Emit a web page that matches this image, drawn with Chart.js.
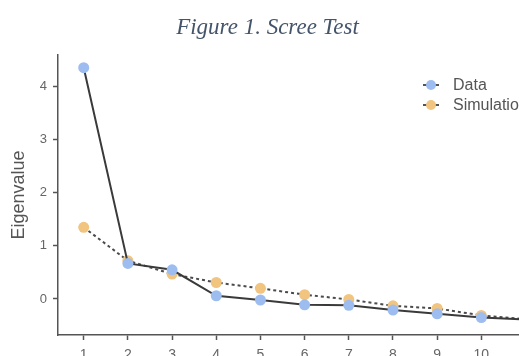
<!DOCTYPE html>
<html>
<head>
<meta charset="utf-8">
<title>Scree Test</title>
<script src="https://cdn.jsdelivr.net/npm/chart.js@4.4.1/dist/chart.umd.min.js"></script>
<style>
html, body { margin: 0; padding: 0; overflow: hidden; background: #ffffff; }
/* canvas is a bit wider/taller than the window: the right and bottom edges get cut off like the original */
#wrap { position: absolute; left: 0; top: 0; width: 535px; height: 375px; }
</style>
</head>
<body>
<div id="wrap"><canvas id="screeChart"></canvas></div>
<script>
// component numbers along the x axis
var components = [1, 2, 3, 4, 5, 6, 7, 8, 9, 10, 11];
// observed eigenvalues
var dataValues = [4.36, 0.67, 0.55, 0.06, -0.02, -0.11, -0.12, -0.21, -0.28, -0.35, -0.39];
// eigenvalues from the simulation
var simValues = [1.35, 0.72, 0.47, 0.31, 0.20, 0.08, -0.01, -0.13, -0.18, -0.31, -0.38];
var yTicks = [0, 1, 2, 3, 4];
var seriesNames = ["Data", "Simulation"];

function toPoints(values) {
    var pts = [];
    for (var i = 0; i < components.length; i++) {
        pts.push({ x: components[i], y: values[i] });
    }
    return pts;
}

// draws the legend as line + dot markers, top right inside the panel
var screeLegend = {
    id: "screeLegend",
    afterDraw: function (chart) {
        var ctx = chart.ctx;
        var sets = chart.data.datasets;
        var x0 = 431, y0 = 85, step = 20;
        ctx.save();
        for (var i = 0; i < sets.length; i++) {
            var y = y0 + i * step;
            ctx.strokeStyle = "#555555";
            ctx.lineWidth = 2;
            ctx.setLineDash([]);
            ctx.beginPath();
            ctx.moveTo(x0 - 8, y);
            ctx.lineTo(x0 + 8, y);
            ctx.stroke();
            ctx.fillStyle = sets[i].pointBackgroundColor;
            ctx.beginPath();
            ctx.arc(x0, y, 5, 0, Math.PI * 2);
            ctx.fill();
            ctx.fillStyle = "#555555";
            ctx.font = "16px 'Liberation Sans', Arial, sans-serif";
            ctx.textBaseline = "middle";
            ctx.textAlign = "left";
            ctx.fillText(sets[i].label, x0 + 22, y + 1);
        }
        ctx.restore();
    }
};

var ctx = document.getElementById("screeChart").getContext("2d");
var screeChart = new Chart(ctx, {
    type: "line",
    data: {
        datasets: [{
            label: seriesNames[0],
            data: toPoints(dataValues),
            borderColor: "#3a3a3a",
            borderWidth: 2,
            pointBackgroundColor: "#9dbdf0",
            pointBorderWidth: 0,
            pointRadius: 5.5,
            tension: 0
        },
        {
            label: seriesNames[1],
            data: toPoints(simValues),
            borderColor: "#4a4a4a",
            borderWidth: 2,
            borderDash: [3, 3],
            pointBackgroundColor: "#f1c47f",
            pointBorderWidth: 0,
            pointRadius: 5.5,
            tension: 0
        }]
    },
    plugins: [screeLegend],
    options: {
        responsive: true,
        maintainAspectRatio: false,
        animation: false,
        layout: { padding: 0 },
        plugins: {
            legend: { display: false },
            tooltip: { enabled: false },
            title: {
                display: true,
                text: "Figure 1. Scree Test",
                color: "#44546a",
                font: { family: "'Liberation Serif', serif", style: "italic", size: 23, weight: "normal" },
                padding: { top: 14, bottom: 13.4 }
            }
        },
        scales: {
            x: {
                type: "linear",
                min: 0.418,
                max: 11.09,
                afterFit: function (scale) {
                    scale.height = 40;
                    scale.paddingLeft = 0;
                    scale.paddingRight = 0;
                },
                border: { display: true, color: "#555555", width: 1.5 },
                grid: { display: true, drawOnChartArea: false, drawTicks: true, tickLength: 5, tickColor: "#555555", tickWidth: 1.5 },
                ticks: {
                    stepSize: 1,
                    includeBounds: false,
                    padding: 7,
                    color: "#666666",
                    font: { family: "'Liberation Sans', Arial, sans-serif", size: 14 }
                }
            },
            y: {
                type: "linear",
                min: -0.68,
                max: 4.6,
                afterFit: function (scale) {
                    scale.width = 58;
                },
                border: { display: true, color: "#555555", width: 1.5 },
                grid: { display: true, drawOnChartArea: false, drawTicks: true, tickLength: 5, tickColor: "#555555", tickWidth: 1.5 },
                afterBuildTicks: function (scale) {
                    scale.ticks = yTicks.map(function (v) { return { value: v }; });
                },
                ticks: {
                    padding: 6,
                    color: "#666666",
                    font: { family: "'Liberation Sans', Arial, sans-serif", size: 13 }
                },
                title: {
                    display: true,
                    text: "Eigenvalue",
                    color: "#555555",
                    font: { family: "'Liberation Sans', Arial, sans-serif", size: 18 },
                    padding: { top: 8, bottom: 4 }
                }
            }
        }
    }
});
</script>
</body>
</html>
